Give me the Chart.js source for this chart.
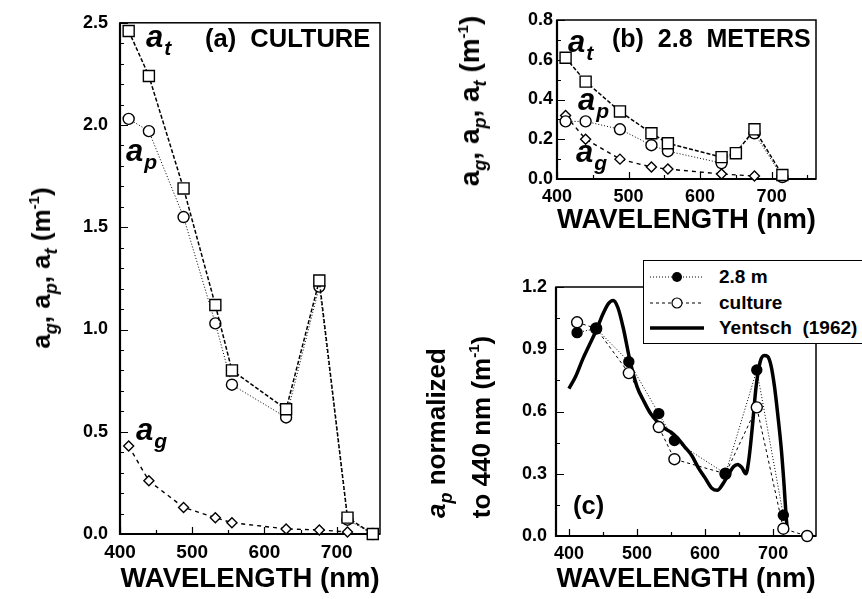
<!DOCTYPE html>
<html>
<head>
<meta charset="utf-8">
<script src="https://cdn.jsdelivr.net/npm/chart.js@4.4.0/dist/chart.umd.min.js"></script>
<style>
  body { margin: 0; background: #fff; width: 862px; height: 599px; overflow: hidden; position: relative;
         font-family: 'Liberation Sans', Arial, sans-serif; color: #000; }
  canvas { position: absolute; }
  .txt { position: absolute; white-space: pre; font-weight: bold; line-height: 1; }
  .lab { font-style: italic; font-size: 31px; }
  .lab span { font-size: 21px; position: relative; top: 8px; left: 1px; }
  .title { font-size: 25.5px; }
  .ytitle { font-size: 26px; transform: translate(-50%, -50%) rotate(-90deg); }
  .ytitle sub { font-size: 18px; font-style: italic; vertical-align: -7px; }
  .ytitle sup { font-size: 15px; vertical-align: 11px; }
  #legend { position: absolute; left: 643px; top: 260px; width: 230px; height: 82px;
            border: 1.5px solid #000; background: #fff; }
  #legend .row { position: absolute; left: 4px; height: 20px; }
  #legend svg { position: absolute; left: 0; top: 3px; }
  #legend span { position: absolute; left: 71px; top: 0; font-size: 19px; font-weight: bold; white-space: pre; line-height: 20px; }
</style>
</head>
<body>
<canvas id="chartA" width="400" height="599" style="left:0;top:0"></canvas>
<canvas id="chartB" width="462" height="240" style="left:400px;top:0"></canvas>
<canvas id="chartC" width="462" height="359" style="left:400px;top:240px"></canvas>

<!-- panel texts -->
<div class="txt title" style="left:205px;top:26px">(a)  CULTURE</div>
<div class="txt title" style="left:612px;top:26px;font-size:25px">(b)  2.8  METERS</div>
<div class="txt title" style="left:573px;top:493px">(c)</div>

<div class="txt lab" style="left:146px;top:21px">a<span>t</span></div>
<div class="txt lab" style="left:126px;top:135px">a<span>p</span></div>
<div class="txt lab" style="left:136px;top:414px">a<span>g</span></div>
<div class="txt lab" style="left:568px;top:26px">a<span>t</span></div>
<div class="txt lab" style="left:578px;top:84px">a<span>p</span></div>
<div class="txt lab" style="left:576px;top:136px">a<span>g</span></div>

<div class="txt ytitle" style="left:43px;top:268px">a<sub>g</sub>, a<sub>p</sub>, a<sub>t</sub> (m<sup>-1</sup>)</div>
<div class="txt ytitle" style="left:472px;top:101px;font-size:28px">a<sub>g</sub>, a<sub>p</sub>, a<sub>t</sub> (m<sup>-1</sup>)</div>
<div class="txt ytitle" style="left:439px;top:433px"><i>a</i><sub>p</sub> normalized</div>
<div class="txt ytitle" style="left:480px;top:427px">to 440 nm (m<sup>-1</sup>)</div>

<div id="legend">
  <div class="row" style="top:6px">
    <svg width="58" height="14"><line x1="2" y1="7" x2="56" y2="7" stroke="#000" stroke-width="1" stroke-dasharray="1 2"/><circle cx="29" cy="7" r="5" fill="#000"/></svg>
    <span>2.8 m</span>
  </div>
  <div class="row" style="top:32px">
    <svg width="58" height="14"><line x1="2" y1="7" x2="56" y2="7" stroke="#000" stroke-width="1" stroke-dasharray="3 3"/><circle cx="29" cy="7" r="5" fill="#fff" stroke="#000" stroke-width="1.2"/></svg>
    <span>culture</span>
  </div>
  <div class="row" style="top:57px">
    <svg width="58" height="14"><line x1="2" y1="7" x2="56" y2="7" stroke="#000" stroke-width="3.5"/></svg>
    <span>Yentsch  (1962)</span>
  </div>
</div>

<script>
// ---- panel (a): culture ----
const wlA = [412, 440, 488, 532, 555, 630, 676, 715, 750];
const atA = [2.46, 2.24, 1.69, 1.12, 0.80, 0.61, 1.24, 0.08, 0.00];
const apA = [2.03, 1.97, 1.55, 1.03, 0.73, 0.57, 1.21, 0.07, 0.00];
const wlAg = [412, 440, 488, 532, 555, 630, 676, 715];
const agA = [0.43, 0.26, 0.13, 0.08, 0.055, 0.025, 0.02, 0.01];

// ---- panel (b): 2.8 meters ----
const wlBt = [412, 440, 488, 532, 555, 630, 650, 676, 715];
const atB = [0.61, 0.49, 0.34, 0.23, 0.18, 0.11, 0.13, 0.25, 0.02];
const wlBp = [412, 440, 488, 532, 555, 630, 676, 715];
const apB = [0.29, 0.29, 0.25, 0.17, 0.14, 0.08, 0.23, 0.01];
const wlBg = [412, 440, 488, 532, 555, 630, 676];
const agB = [0.32, 0.20, 0.10, 0.06, 0.05, 0.025, 0.015];

// ---- panel (c): a_p normalized to 440 nm ----
const wlC = [412, 440, 488, 532, 555, 630, 676, 715];
const normMeters = [0.98, 1.00, 0.84, 0.59, 0.46, 0.30, 0.80, 0.10];
const wlCc = [412, 440, 488, 532, 555, 630, 676, 715, 750];
const normCulture = [1.03, 1.00, 0.785, 0.525, 0.37, 0.30, 0.62, 0.035, 0.00];
const wlY = [400, 410, 420, 430, 440, 450, 458, 465, 472, 480, 490, 500, 510, 520, 530, 540, 550, 560,
             570, 580, 590, 600, 610, 618, 626, 635, 642, 648, 654, 660, 664, 669, 675, 681, 687, 692,
             697, 702, 707, 712, 716, 719, 721];
const yentsch = [0.71, 0.77, 0.85, 0.92, 0.99, 1.07, 1.12, 1.135, 1.10, 1.00, 0.84, 0.72, 0.65, 0.59, 0.55, 0.52, 0.50, 0.47,
                 0.43, 0.39, 0.33, 0.28, 0.23, 0.22, 0.25, 0.30, 0.335, 0.345, 0.33, 0.30, 0.36, 0.51, 0.72, 0.84, 0.87, 0.865,
                 0.82, 0.72, 0.58, 0.42, 0.25, 0.10, 0.02];

// tick labels
const xLabels = [400, 500, 600, 700];
const yLabelsA = [0, 0.5, 1.0, 1.5, 2.0, 2.5];
const yLabelsB = [0, 0.2, 0.4, 0.6, 0.8];
const yLabelsC = [0, 0.3, 0.6, 0.9, 1.2];

const FONT = "'Liberation Sans', Arial, sans-serif";

function pts(xs, ys) {
    return xs.map((x, i) => ({ x: x, y: ys[i] }));
}

function series(xs, ys, shape, radius, dash, width, fill) {
    return {
        data: pts(xs, ys),
        borderColor: '#000',
        borderWidth: width,
        borderDash: dash,
        pointStyle: shape,
        pointRadius: radius,
        pointBorderWidth: 1.4,
        pointBorderColor: '#000',
        pointBackgroundColor: fill,
        tension: 0,
        clip: false
    };
}

function isLabel(list, v) {
    return list.some(l => Math.abs(l - v) < 1e-6);
}

// frame round the plot and inward tick marks
const frameTicks = {
    id: 'frameTicks',
    beforeDatasetsDraw(chart) {
        const { ctx, chartArea: a, scales: { x, y } } = chart;
        ctx.save();
        ctx.strokeStyle = '#000';
        ctx.lineWidth = 1.5;
        ctx.strokeRect(a.left, a.top, a.right - a.left, a.bottom - a.top);
        ctx.lineWidth = 2.2;
        ctx.beginPath();
        ctx.moveTo(a.left, a.top);
        ctx.lineTo(a.left, a.bottom);
        ctx.lineTo(a.right, a.bottom);
        ctx.stroke();
        ctx.lineWidth = 1.2;
        ctx.beginPath();
        x.ticks.forEach(t => {
            const px = Math.round(x.getPixelForValue(t.value)) + 0.5;
            const len = t.label ? 7 : 4;
            ctx.moveTo(px, a.bottom);
            ctx.lineTo(px, a.bottom - len);
        });
        y.ticks.forEach(t => {
            const py = Math.round(y.getPixelForValue(t.value)) + 0.5;
            const len = t.label ? 8 : 4;
            ctx.moveTo(a.left, py);
            ctx.lineTo(a.left + len, py);
        });
        ctx.stroke();
        ctx.restore();
    }
};

function panel(id, datasets, o) {
    return new Chart(document.getElementById(id), {
        type: 'line',
        data: { datasets: datasets },
        plugins: [frameTicks],
        options: {
            responsive: false,
            animation: false,
            devicePixelRatio: 1,
            layout: { padding: { left: 0, top: o.top, right: o.right, bottom: 0 } },
            plugins: { legend: { display: false }, tooltip: { enabled: false } },
            scales: {
                x: {
                    type: 'linear',
                    min: o.xmin, max: o.xmax,
                    grid: { display: false, drawTicks: false },
                    border: { display: false },
                    ticks: {
                        stepSize: 50, autoSkip: false, includeBounds: false, maxRotation: 0,
                        maxTicksLimit: 100, padding: 7, color: '#000',
                        font: { family: FONT, size: o.xfs, weight: 'bold' },
                        callback: v => isLabel(xLabels, v) ? String(v) : ''
                    },
                    title: {
                        display: true, text: 'WAVELENGTH (nm)', color: '#000',
                        font: { family: FONT, size: 27.5, weight: 'bold' },
                        padding: { top: 0, bottom: 3 }
                    },
                    afterFit(s) { s.height = o.xh; }
                },
                y: {
                    min: 0, max: o.ymax,
                    grid: { display: false, drawTicks: false },
                    border: { display: false },
                    ticks: {
                        stepSize: o.ystep, autoSkip: false, includeBounds: false,
                        maxTicksLimit: 100, padding: o.ypad, color: '#000',
                        font: { family: FONT, size: 18, weight: 'bold' },
                        callback: v => isLabel(o.ylabels, v) ? v.toFixed(1) : ''
                    },
                    afterFit(s) { s.width = o.yw; }
                }
            }
        }
    });
}

// (a) culture
panel('chartA', [
    series(wlA, atA, 'rect', 7.8, [4, 2], 1.5, '#fff'),
    series(wlA, apA, 'circle', 5.5, [1, 2], 1, '#fff'),
    series(wlAg, agA, 'rectRot', 5, [4, 4], 1.4, '#fff')
], { top: 20, right: 20, xmin: 400, xmax: 760, xh: 65, xfs: 19, ymax: 2.5, ystep: 0.1, ylabels: yLabelsA, ypad: 12, yw: 120 });

// (b) 2.8 meters
panel('chartB', [
    series(wlBt, atB, 'rect', 7.8, [4, 2], 1.5, '#fff'),
    series(wlBp, apB, 'circle', 5.5, [1, 2], 1, '#fff'),
    series(wlBg, agB, 'rectRot', 5, [4, 4], 1.4, '#fff')
], { top: 20, right: 46, xmin: 400, xmax: 762, xh: 61, xfs: 18, ymax: 0.8, ystep: 0.1, ylabels: yLabelsB, ypad: 4, yw: 157 });

// (c) normalized
const yent = series(wlY, yentsch, 'circle', 0, [], 3.5, '#000');
yent.cubicInterpolationMode = 'monotone';
panel('chartC', [
    series(wlC, normMeters, 'circle', 5, [1, 2], 1, '#000'),
    series(wlCc, normCulture, 'circle', 5.5, [3, 3], 1, '#fff'),
    yent
], { top: 47, right: 46, xmin: 381, xmax: 763, xh: 63, xfs: 18, ymax: 1.2, ystep: 0.15, ylabels: yLabelsC, ypad: 9, yw: 156 });
</script>
</body>
</html>
